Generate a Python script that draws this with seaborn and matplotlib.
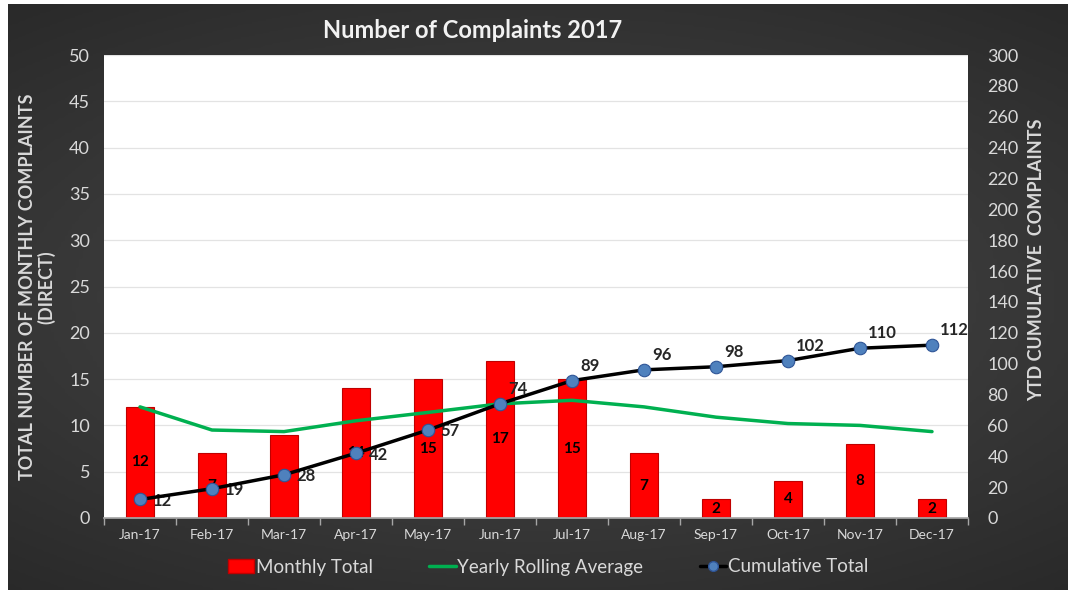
#!/usr/bin/env python3

import matplotlib
matplotlib.use('Agg')
import matplotlib.pyplot as plt
from matplotlib.patches import Patch
from matplotlib.lines import Line2D
import seaborn as sns
import numpy as np
import pandas as pd

months = ['Jan-17', 'Feb-17', 'Mar-17', 'Apr-17', 'May-17', 'Jun-17',
          'Jul-17', 'Aug-17', 'Sep-17', 'Oct-17', 'Nov-17', 'Dec-17']
monthly_total = [12, 7, 9, 14, 15, 17, 15, 7, 2, 4, 8, 2]
rolling_avg = [12, 9.5, 9.33, 10.5, 11.4, 12.33, 12.71, 12, 10.89, 10.2, 10, 9.33]
cumulative = [12, 19, 28, 42, 57, 74, 89, 96, 98, 102, 110, 112]

left_ticks = list(range(0, 51, 5))
right_ticks = list(range(0, 301, 20))

FONT = ['Lato', 'DejaVu Sans']
TXT = '#d9d9d9'

sns.set_theme(style='white')
plt.rcParams['font.family'] = FONT

df = pd.DataFrame({'month': months, 'total': monthly_total,
                   'avg': rolling_avg, 'cum': cumulative})
df['pos'] = np.arange(len(df))

fig = plt.figure(figsize=(10.68, 5.90), dpi=100)
fig.patch.set_facecolor('white')

# dark radial-ish background
bg = fig.add_axes([8 / 1068, 0, 1 - 8 / 1068, 1 - 4 / 590])
yy, xx = np.mgrid[-1:1:200j, -1:1:300j]
rr = np.sqrt((xx * 0.9) ** 2 + (yy * 1.1) ** 2)
bg.imshow(rr, cmap=sns.dark_palette('#4a4a4a', as_cmap=True).reversed(),
          vmin=0, vmax=1.6, aspect='auto', extent=[0, 1, 0, 1])
bg.set_axis_off()

L, R, T, B = 104, 968, 55, 518
ax = fig.add_axes([L / 1068, 1 - B / 590, (R - L) / 1068, (B - T) / 590])
ax.set_facecolor('white')

sns.barplot(data=df, x='pos', y='total', ax=ax, color='#ff0000',
            width=0.39, edgecolor='#c00000', linewidth=0.8, saturation=1,
            native_scale=True, zorder=2)
for p, v in zip(df['pos'], df['total']):
    ax.text(p, v / 2, str(v), ha='center', va='center', fontsize=11,
            fontweight='bold', color='black', zorder=3)

sns.lineplot(data=df, x='pos', y='avg', ax=ax, color='#00b050',
             linewidth=2.5, zorder=4)

ax.set_xlim(-0.5, 11.5)
ax.set_ylim(0, 50)
ax.set_yticks(left_ticks)
ax.set_xticks(df['pos'])
ax.set_xticklabels(months)
ax.set_xticks(np.arange(-0.5, 12, 1), minor=True)
ax.tick_params(axis='x', which='major', length=0, colors=TXT, labelsize=10, pad=8)
ax.tick_params(axis='x', which='minor', length=5, color='#a6a6a6', direction='out',
               bottom=True)
ax.tick_params(axis='y', length=0, colors=TXT, labelsize=13, pad=10)
ax.grid(axis='y', color='#e3e3e3', linewidth=0.9, zorder=0)
ax.set_axisbelow(True)
for s in ['top', 'right', 'left']:
    ax.spines[s].set_visible(False)
ax.spines['bottom'].set_color('#a6a6a6')
ax.set_xlabel('')
ax.set_ylabel('TOTAL NUMBER OF MONTHLY COMPLAINTS\n(DIRECT)', color=TXT,
              fontsize=13, fontweight='bold', linespacing=1.05, va='center')
ax.yaxis.set_label_coords((37 - L) / (R - L), (B - 287) / (B - T))

ax2 = ax.twinx()
sns.lineplot(data=df, x='pos', y='cum', ax=ax2, color='black', linewidth=2.5,
             marker='o', markersize=9, markerfacecolor='#4f81bd',
             markeredgecolor='#2f5597', markeredgewidth=0.8, zorder=5)
for i, (p, v) in enumerate(zip(df['pos'], df['cum'])):
    if i < 5:
        ax2.annotate(str(v), (p, v), xytext=(9, -1), textcoords='offset points',
                     ha='left', va='center', fontsize=12, fontweight='bold')
    else:
        ax2.annotate(str(v), (p, v), xytext=(6, 5), textcoords='offset points',
                     ha='left', va='bottom', fontsize=12, fontweight='bold')
ax2.set_ylim(0, 300)
ax2.set_yticks(right_ticks)
ax2.tick_params(axis='y', length=0, colors=TXT, labelsize=13, pad=14)
for s in ['top', 'right', 'left', 'bottom']:
    ax2.spines[s].set_visible(False)
ax2.set_xlabel('')
ax2.set_ylabel('YTD CUMULATIVE  COMPLAINTS', color=TXT, fontsize=13,
               fontweight='bold', va='center')
ax2.yaxis.set_label_coords((1037 - L) / (R - L), (B - 260) / (B - T))
ax2.set_xlim(-0.5, 11.5)

fig.text(473 / 1068, 1 - 30 / 590, 'Number of Complaints 2017', ha='center',
         va='center', fontsize=17, fontweight='bold', color='#f2f2f2')

handles = [Patch(facecolor='#ff0000', edgecolor='#c00000'),
           Line2D([], [], color='#00b050', linewidth=2.5),
           Line2D([], [], color='black', linewidth=2.5, marker='o', markersize=7,
                  markerfacecolor='#4f81bd', markeredgecolor='#2f5597')]
leg = fig.legend(handles, ['Monthly Total', 'Yearly Rolling Average', 'Cumulative Total'],
                 loc='center', bbox_to_anchor=(548 / 1068, 1 - 567 / 590), ncol=3,
                 frameon=False, fontsize=13.5, handlelength=1.4, handletextpad=0.1,
                 columnspacing=3.0)
for t in leg.get_texts():
    t.set_color(TXT)

fig.savefig('out.png', dpi=100)
